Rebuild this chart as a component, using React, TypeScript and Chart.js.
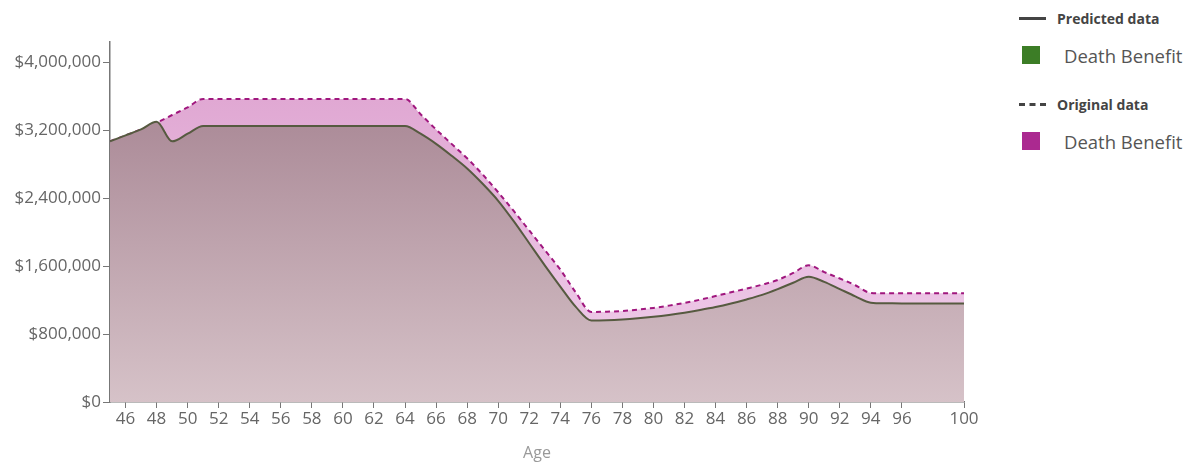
import React, { useEffect, useRef } from 'react';
import { Chart, registerables } from 'chart.js';

Chart.register(...registerables);

const ages = [
    45, 46, 47, 48, 49, 50, 51, 52, 53, 54, 55, 56, 57, 58, 59, 60, 61, 62, 63, 64,
    65, 66, 67, 68, 69, 70, 71, 72, 73, 74, 75, 76, 77, 78, 79, 80, 81, 82, 83, 84,
    85, 86, 87, 88, 89, 90, 91, 92, 93, 94, 95, 96, 97, 98, 99, 100,
];

// predicted death benefit (solid line)
const predicted = [
    3070000, 3140000, 3210000, 3300000, 3070000, 3160000, 3250000, 3250000, 3250000, 3250000,
    3250000, 3250000, 3250000, 3250000, 3250000, 3250000, 3250000, 3250000, 3250000, 3250000,
    3160000, 3040000, 2900000, 2750000, 2570000, 2370000, 2130000, 1870000, 1610000, 1360000,
    1120000, 960000, 963000, 972000, 986000, 1004000, 1026000, 1052000, 1083000, 1118000,
    1160000, 1208000, 1262000, 1330000, 1405000, 1475000, 1415000, 1330000, 1245000, 1170000,
    1163000, 1160000, 1160000, 1160000, 1160000, 1160000,
];

// original death benefit (dashed line)
const original = [
    3070000, 3140000, 3210000, 3290000, 3380000, 3470000, 3570000, 3570000, 3570000, 3570000,
    3570000, 3570000, 3570000, 3570000, 3570000, 3570000, 3570000, 3570000, 3570000, 3570000,
    3390000, 3210000, 3040000, 2870000, 2680000, 2470000, 2250000, 2020000, 1790000, 1560000,
    1290000, 1060000, 1064000, 1072000, 1088000, 1108000, 1135000, 1168000, 1205000, 1248000,
    1292000, 1336000, 1382000, 1437000, 1520000, 1610000, 1530000, 1455000, 1375000, 1285000,
    1280000, 1280000, 1280000, 1280000, 1280000, 1280000,
];

const xTicks = [46, 48, 50, 52, 54, 56, 58, 60, 62, 64, 66, 68, 70, 72, 74, 76, 78, 80, 82, 84, 86, 88, 90, 92, 94, 96, 100];
const yTicks = [0, 800000, 1600000, 2400000, 3200000, 4000000];

const FONT = "'Open Sans', 'Noto Sans', sans-serif";

const gradient = (chart: Chart, top: string, bottom: string) => {
    const area = chart.chartArea;
    if (!area) return top;
    const g = chart.ctx.createLinearGradient(0, area.top, 0, area.bottom);
    g.addColorStop(0, top);
    g.addColorStop(1, bottom);
    return g;
};

const DeathBenefitChart: React.FC = () => {
    const chartRef = useRef<HTMLCanvasElement | null>(null);

    useEffect(() => {
        if (!chartRef.current) return;
        const ctx = chartRef.current.getContext('2d');
        if (!ctx) return;

        const chart = new Chart(ctx, {
            type: 'line',
            data: {
                datasets: [
                    {
                        label: 'Predicted data',
                        data: ages.map((a, i) => ({ x: a, y: predicted[i] })),
                        borderColor: '#565a40',
                        borderWidth: 2,
                        fill: 'origin',
                        backgroundColor: (c: any) => gradient(c.chart, 'rgb(160,124,139)', 'rgb(214,194,200)'),
                        pointRadius: 0,
                        cubicInterpolationMode: 'monotone',
                    },
                    {
                        label: 'Original data',
                        data: ages.map((a, i) => ({ x: a, y: original[i] })),
                        borderColor: '#a0177e',
                        borderWidth: 2,
                        borderDash: [5, 4],
                        fill: 'origin',
                        backgroundColor: (c: any) => gradient(c.chart, 'rgb(221,160,206)', 'rgb(241,210,237)'),
                        pointRadius: 0,
                        cubicInterpolationMode: 'monotone',
                    },
                ],
            },
            options: {
                animation: false,
                responsive: true,
                maintainAspectRatio: false,
                layout: { padding: { top: 42, right: 36, left: 0, bottom: 0 } },
                plugins: {
                    legend: { display: false },
                    tooltip: { enabled: false },
                },
                scales: {
                    x: {
                        type: 'linear',
                        min: 45,
                        max: 100,
                        afterBuildTicks: (scale: any) => {
                            scale.ticks = xTicks.map(v => ({ value: v }));
                        },
                        afterFit: (scale: any) => {
                            scale.height = 71;
                        },
                        grid: { display: true, drawOnChartArea: false, drawTicks: true, tickLength: 6, color: '#777' },
                        border: { color: '#777', width: 1.5 },
                        ticks: {
                            color: '#666',
                            font: { family: FONT, size: 17 },
                            padding: 1,
                            maxRotation: 0,
                            autoSkip: false,
                            callback: (v: any) => String(v),
                        },
                        title: {
                            display: true,
                            text: 'Age',
                            color: '#999',
                            font: { family: FONT, size: 16 },
                            padding: { top: 4, bottom: 10 },
                        },
                    },
                    y: {
                        min: 0,
                        max: 4240000,
                        afterBuildTicks: (scale: any) => {
                            scale.ticks = yTicks.map(v => ({ value: v }));
                        },
                        afterFit: (scale: any) => {
                            scale.width = 110;
                        },
                        grid: { display: true, drawOnChartArea: false, drawTicks: true, tickLength: 7, color: '#777' },
                        border: { color: '#777', width: 1.5 },
                        ticks: {
                            color: '#666',
                            font: { family: FONT, size: 17 },
                            padding: 2,
                            callback: (v: any) => '$' + Number(v).toLocaleString('en-US'),
                        },
                    },
                },
            },
        });

        return () => {
            chart.destroy();
        };
    }, []);

    const legendTitle: React.CSSProperties = {
        display: 'flex', alignItems: 'center', fontWeight: 700, fontSize: 14, color: '#444', height: 20,
    };
    const legendItem: React.CSSProperties = {
        display: 'flex', alignItems: 'center', fontSize: 18.5, color: '#555', height: 22,
    };

    return (
        <div style={{ position: 'fixed', left: 0, top: 0, width: 1200, height: 473, background: '#fff', fontFamily: FONT }}>
            <div style={{ position: 'absolute', left: 0, top: 0, width: 1000, height: 473 }}>
                <canvas ref={chartRef}></canvas>
            </div>
            <div style={{ position: 'absolute', left: 1019, top: 8, width: 180 }}>
                <div style={legendTitle}>
                    <span style={{ display: 'inline-block', width: 27, borderTop: '3px solid #444', marginRight: 11 }}></span>
                    Predicted data
                </div>
                <div style={{ ...legendItem, marginTop: 16 }}>
                    <span style={{ display: 'inline-block', width: 18, height: 18, background: '#3c7d26', marginLeft: 3, marginRight: 24 }}></span>
                    Death Benefit
                </div>
                <div style={{ ...legendTitle, marginTop: 28 }}>
                    <span style={{ display: 'inline-block', width: 27, borderTop: '3px dashed #444', marginRight: 11 }}></span>
                    Original data
                </div>
                <div style={{ ...legendItem, marginTop: 16 }}>
                    <span style={{ display: 'inline-block', width: 18, height: 18, background: '#ab2990', marginLeft: 3, marginRight: 24 }}></span>
                    Death Benefit
                </div>
            </div>
        </div>
    );
};

export default function App() {
    return <DeathBenefitChart />;
}
